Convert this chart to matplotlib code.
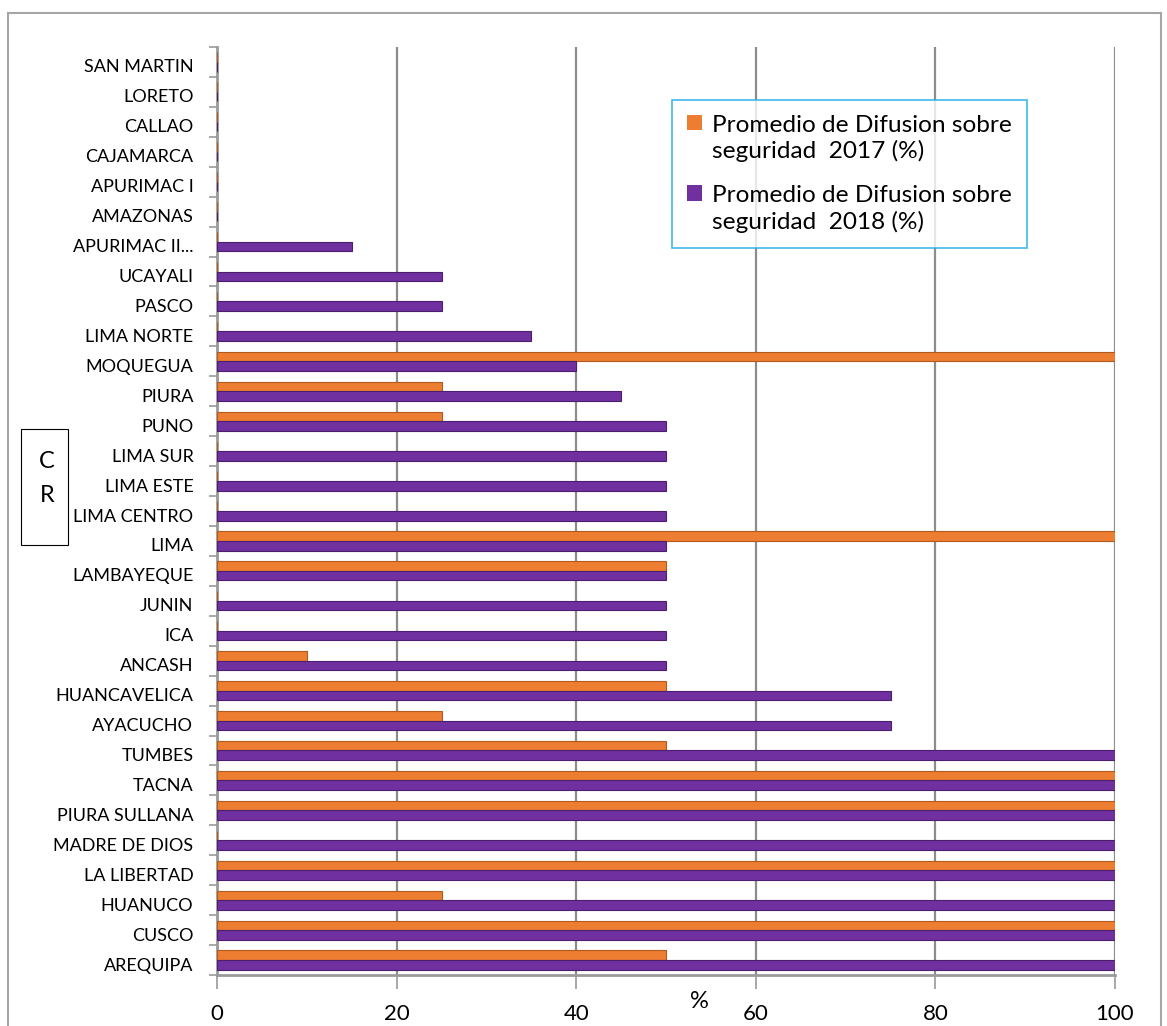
import matplotlib
matplotlib.use("Agg")
import matplotlib.pyplot as plt
import numpy as np
from matplotlib.lines import Line2D
from matplotlib.patches import Rectangle, Patch
from matplotlib.transforms import Bbox, ScaledTranslation
from matplotlib.legend_handler import HandlerPatch

plt.rcParams['font.family'] = ['Lato', 'DejaVu Sans']

# Regions, listed from the bottom of the chart to the top
regions = [
    "AREQUIPA", "CUSCO", "HUANUCO", "LA LIBERTAD", "MADRE DE DIOS",
    "PIURA SULLANA", "TACNA", "TUMBES", "AYACUCHO", "HUANCAVELICA",
    "ANCASH", "ICA", "JUNIN", "LAMBAYEQUE", "LIMA", "LIMA CENTRO",
    "LIMA ESTE", "LIMA SUR", "PUNO", "PIURA", "MOQUEGUA", "LIMA NORTE",
    "PASCO", "UCAYALI", "APURIMAC II...", "AMAZONAS", "APURIMAC I",
    "CAJAMARCA", "CALLAO", "LORETO", "SAN MARTIN",
]
difusion_2017 = [
    50, 100, 25, 100, 0, 100, 100, 50, 25, 50,
    10, 0, 0, 50, 100, 0, 0, 0, 25, 25, 100, 0,
    0, 0, 0, 0, 0, 0, 0, 0, 0,
]
difusion_2018 = [
    100, 100, 100, 100, 100, 100, 100, 100, 75, 75,
    50, 50, 50, 50, 50, 50, 50, 50, 50, 45, 40, 35,
    25, 25, 15, 0, 0, 0, 0, 0, 0,
]
x_ticks = [0, 20, 40, 60, 80, 100]
label_2017 = "Promedio de Difusion sobre\nseguridad  2017 (%)"
label_2018 = "Promedio de Difusion sobre\nseguridad  2018 (%)"

W, H = 1167, 1026
fig = plt.figure(figsize=(W / 100, H / 100), dpi=100)
ax = fig.add_axes([217 / W, 1 - 975 / H, (1115 - 217) / W, (975 - 47) / H])

orange = "#ED7D31"
purple = "#7030A0"
y = np.arange(len(regions))
bh = 0.32
ax.barh(y + bh / 2, difusion_2017, height=bh, color=orange,
        edgecolor="#B35A1F", linewidth=0.8, zorder=3)
ax.barh(y - bh / 2, difusion_2018, height=bh, color=purple,
        edgecolor="#4B1E6E", linewidth=0.8, zorder=3)

ax.set_xlim(0, 100)
ax.set_ylim(-0.5, len(regions) - 0.5)
ax.set_xticks(x_ticks)
ax.set_xticklabels([str(v) for v in x_ticks], fontsize=16)
ax.set_yticks(y)
ax.set_yticklabels(regions, fontsize=13)
ax.set_yticks(np.arange(len(regions) + 1) - 0.5, minor=True)
ax.tick_params(axis="y", which="major", length=0, pad=17)
ax.tick_params(axis="y", which="minor", length=6, color="#9A9A9A", width=1.2)
ax.tick_params(axis="x", length=10, color="#9A9A9A", width=1.2, pad=11)
shift = ScaledTranslation(0, -4 / 100, fig.dpi_scale_trans)
for lbl in ax.get_yticklabels():
    lbl.set_transform(lbl.get_transform() + shift)

ax.grid(axis="x", color="#8C8C8C", linewidth=1.6, zorder=0)
for s in ["top", "right"]:
    ax.spines[s].set_visible(False)
for s in ["left", "bottom"]:
    ax.spines[s].set_color("#9A9A9A")
    ax.spines[s].set_linewidth(2)


def top_square(legend, orig_handle, xdescent, ydescent, width, height, fontsize):
    # square aligned with the first line of a two-line label
    return Rectangle((-xdescent, -ydescent + 0.66 * fontsize), width, height)


handles = [Patch(facecolor=orange, edgecolor="none"),
           Patch(facecolor=purple, edgecolor="none")]
leg = fig.legend(handles, [label_2017, label_2018],
                 loc="upper left", bbox_to_anchor=(672 / W, 1 - 100 / H),
                 fontsize=17.6, frameon=True, fancybox=False,
                 handlelength=0.6, handleheight=0.6, handletextpad=0.4,
                 labelspacing=0.95, borderpad=0.62, borderaxespad=0,
                 handler_map={Patch: HandlerPatch(patch_func=top_square)})
for t in leg.get_texts():
    t.set_linespacing(1.22)
leg.get_frame().set_edgecolor("#22B0E8")
leg.get_frame().set_linewidth(1.3)

# Outer frame around the chart
for xs, ys in [((8, 1161), (13, 13)), ((8, 8), (13, H)), ((1161, 1161), (13, H))]:
    fig.add_artist(Line2D([x / W for x in xs], [1 - v / H for v in ys],
                          color="#A6A6A6", linewidth=1.5, transform=fig.transFigure))

# "C R" side box
fig.add_artist(Rectangle((21 / W, 1 - 545 / H), 47 / W, 116 / H,
                         facecolor="white", edgecolor="black", linewidth=0.8,
                         transform=fig.transFigure))
fig.text(47 / W, 1 - 461 / H, "C", fontsize=17, ha="center", va="center")
fig.text(47 / W, 1 - 495 / H, "R", fontsize=17, ha="center", va="center")

# Axis unit label, cut at the lower edge
pct = fig.text(699 / W, 1 - 1002 / H, "%", fontsize=17, ha="center", va="center")
pct.set_clip_box(Bbox([[0, H - 1008], [W, H]]))

fig.savefig("out.png", dpi=100)
